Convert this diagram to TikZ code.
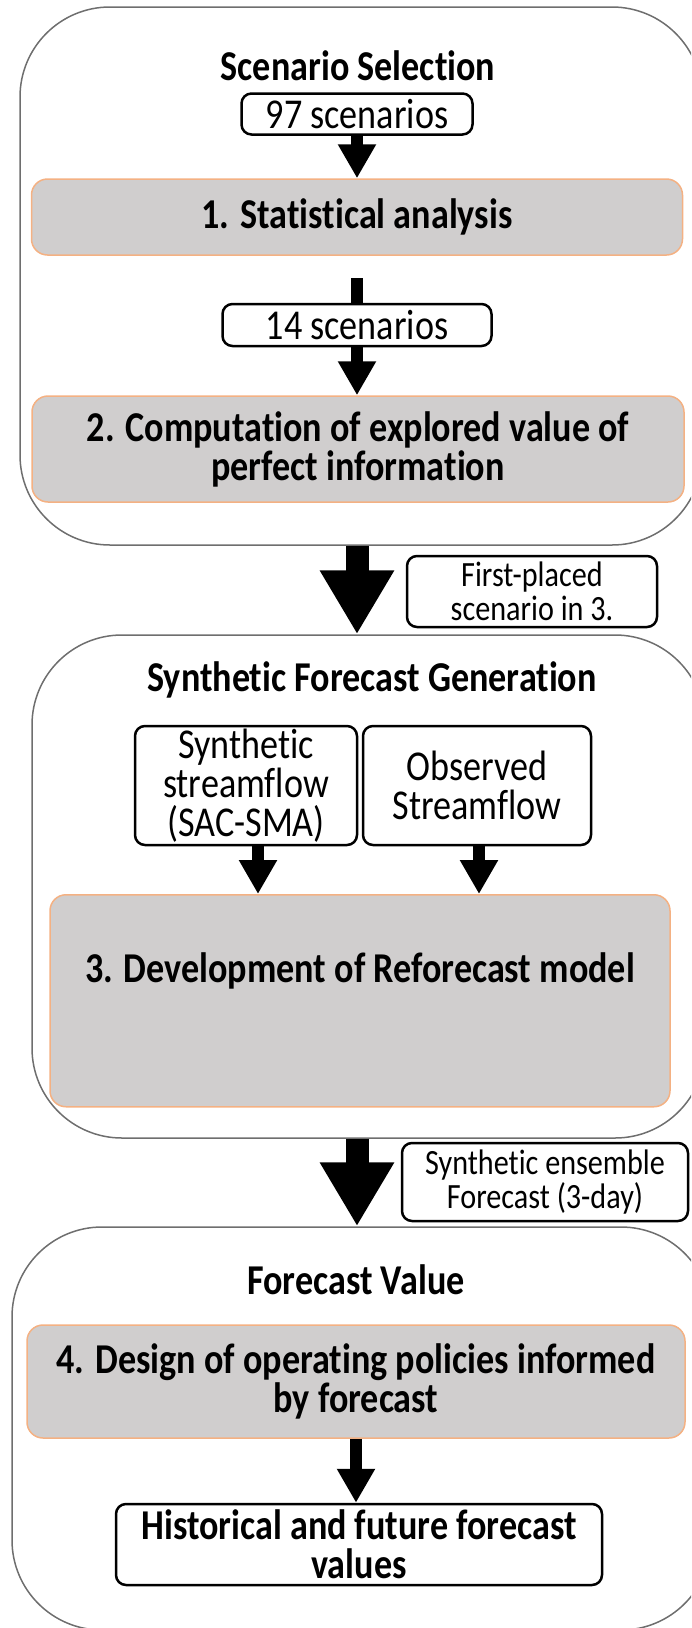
\documentclass[tikz,border=0pt]{standalone}
\usepackage{fontspec}
\setmainfont{Carlito}[FakeStretch=0.85, Ligatures={NoCommon,NoContextual}]
\usetikzlibrary{arrows.meta,positioning}
\definecolor{boxgray}{HTML}{D0CECE}
\definecolor{boxorange}{HTML}{F4B183}
\definecolor{framegray}{HTML}{6E6E6E}
\tikzset{%
	stage/.style    = {draw=framegray, line width=1.5pt, rounded corners=90pt, inner sep=0pt},
	heading/.style  = {inner sep=0pt, font=\fontsize{42.5}{39}\selectfont\bfseries},
	process/.style  = {draw=boxorange, fill=boxgray, line width=1.5pt, rounded corners=16pt, inner sep=0pt, align=center, font=\fontsize{42.5}{39}\selectfont\bfseries},
	inputbox/.style = {draw=black, fill=white, line width=2.5pt, rounded corners=10pt, inner sep=0pt, align=center, font=\fontsize{42.5}{39}\selectfont},
	notebox/.style  = {inputbox, font=\fontsize{35.5}{34}\selectfont},
	arrow/.style    = {line width=12pt, -{Triangle[width=36pt,length=34pt]}},
	bigarrow/.style = {line width=23pt, -{Triangle[width=70pt,length=64pt]}},
}

\begin{document}
\begin{tikzpicture}[x=1pt,y=-1pt]
		\useasboundingbox (0,0) rectangle (691,1628);
		\clip (0,0) rectangle (691,1628);
		
		% scenario selection
		\node[stage, minimum width=682pt, minimum height=538pt] (box1) at (361,276) {};
		\node[heading] (title1) at (358,66) {Scenario Selection};
		\node[inputbox, minimum width=231pt, minimum height=41pt] (n97) at (357,114) {97 scenarios};
		\node[process, minimum width=651pt, minimum height=76pt] (stat) at (357,217) {1. Statistical analysis};
		\coordinate (s14) at (357,278);
		\node[process, minimum width=652pt, minimum height=106pt] (comp) at (358,449) {2. Computation of explored value of\\perfect information};
		
		\draw[arrow] (n97.south) -- (n97.south |- stat.north);
		\draw[arrow] (s14) -- (s14 |- comp.north);
		\node[inputbox, minimum width=269pt, minimum height=42pt] (n14) at (357,325) {14 scenarios};
		
		% synthetic forecast generation
		\node[stage, minimum width=673pt, minimum height=503pt] (sfg) at (368.5,886.5) {};
		\node[heading] (title2) at (372,680) {Synthetic Forecast Generation};
		\node[inputbox, minimum width=222pt, minimum height=119pt] (syn) at (246,785.5) {Synthetic\\streamflow\\(SAC-SMA)};
		\node[inputbox, minimum width=228pt, minimum height=119pt] (obs) at (477,785.5) {Observed\\Streamflow};
		\node[process, anchor=north, minimum width=620pt, text height=88pt, text depth=124pt] (dev) at (360,894) {3. Development of Reforecast model};
		
		\draw[arrow] ([xshift=12pt]syn.south) -- ([xshift=12pt]syn.south |- dev.north);
		\draw[arrow] ([xshift=2pt]obs.south) -- ([xshift=2pt]obs.south |- dev.north);
		
		\draw[bigarrow] (stat.south |- box1.south) -- (stat.south |- sfg.north);
		\node[notebox, minimum width=250pt, minimum height=71pt] (placed) at (532,591.5) {First-placed\\scenario in 3.};
		
		% forecast value
		\node[stage, minimum width=699pt, minimum height=403pt] (fv) at (361.5,1428.5) {};
		\node[heading] (title3) at (356,1280) {Forecast Value};
		\node[process, minimum width=658pt, minimum height=113pt] (design) at (356,1381.5) {4. Design of operating policies informed\\by forecast};
		\node[inputbox, font=\fontsize{42.5}{39}\selectfont\bfseries, minimum width=486pt, minimum height=81pt] (hist) at (359,1544.5) {Historical and future forecast\\values};
		
		\draw[arrow] (design.south) -- (design.south |- hist.north);
		
		\draw[bigarrow] (stat.south |- sfg.south) -- (stat.south |- fv.north);
		\node[notebox, minimum width=286pt, minimum height=78pt] (ensemble) at (545,1182) {Synthetic ensemble\\Forecast (3-day)};
\end{tikzpicture}
\end{document}
